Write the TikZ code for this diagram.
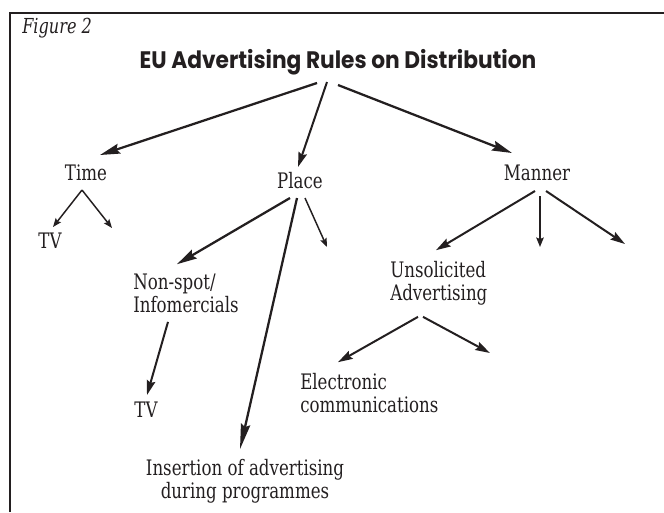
\documentclass[tikz,border=0pt]{standalone}
\usepackage{fontspec}
\setmainfont{DejaVu Serif}[FakeStretch=0.78]
\newfontfamily\headfont{Poppins}[FakeStretch=0.91]
\usetikzlibrary{arrows.meta}

\definecolor{ink}{HTML}{231F20}

\tikzset{
  lbl/.style={inner sep=0pt, text=ink, font=\fontsize{16}{17.25}\selectfont},
  heavy/.style={draw=ink, line width=1.7pt, -{Stealth[length=15pt, width=7.5pt, inset=2pt]}},
  medium/.style={draw=ink, line width=1.5pt, -{Stealth[length=11pt, width=6.5pt, inset=1.5pt]}},
  light/.style={draw=ink, line width=1.1pt, -{Stealth[length=6.5pt, width=5pt, inset=1pt]}},
}

\begin{document}
\begin{tikzpicture}[x=0.75pt, y=-0.75pt]
  \useasboundingbox (0,0) rectangle (664,512);

  % box round the figure (only top and left edge on the page)
  \draw[ink, line width=1.5pt] (9.5,512) -- (9.5,12.5) -- (664,12.5);

  \node[lbl, anchor=base west, font=\fontsize{15.5}{17}\selectfont\itshape] (fig) at (22,33) {Figure 2};
  \node[inner sep=0pt, text=ink, anchor=base, font=\headfont\bfseries\fontsize{17.9}{20}\selectfont] (title) at (338,68) {EU Advertising Rules on Distribution};

  \node[lbl, anchor=base] (time) at (86,180) {Time};
  \node[lbl, anchor=base] (place) at (300,188) {Place};
  \node[lbl, anchor=base] (manner) at (537,180) {Manner};

  \node[lbl, anchor=base] (tvA) at (50,248) {TV};
  \node[lbl, align=left, anchor=north west] (nonspot) at (133,273.5) {Non-spot/\\Infomercials};
  \node[lbl, anchor=base] (tvB) at (146,417) {TV};
  \node[lbl, align=center, anchor=north] (insert) at (245,459.5) {Insertion of advertising\\during programmes};
  \node[lbl, align=left, anchor=north west] (unsol) at (390,261.5) {Unsolicited\\Advertising};
  \node[lbl, align=left, anchor=north west] (elec) at (300,373.5) {Electronic\\communications};

  % arrows with nothing at the end
  \coordinate (timeR) at (112,228);
  \coordinate (placeR) at (327,247);
  \coordinate (mannerM) at (540,247);
  \coordinate (mannerR) at (625,244);
  \coordinate (unsolR) at (490,353);

  % from the title
  \draw[heavy] ([xshift=-15.75pt,yshift=-11.25pt]title.base) -- ([xshift=10.5pt,yshift=18.75pt]time.base);
  \draw[medium] ([xshift=-8.25pt,yshift=-10.5pt]title.base) -- ([xshift=-1.5pt,yshift=15.75pt]place.base);
  \draw[heavy] ([yshift=-12.75pt]title.base) -- ([xshift=-18.75pt,yshift=20.25pt]manner.base);

  % time
  \draw[light] ([xshift=-3pt,yshift=-7.5pt]time.base) -- ([xshift=2.25pt,yshift=15.75pt]tvA.base);
  \draw[light] ([xshift=-3pt,yshift=-7.5pt]time.base) -- (timeR);

  % place
  \draw[heavy] ([xshift=-7.5pt,yshift=-7.5pt]place.base) -- ([xshift=33pt,yshift=7pt]nonspot.north west);
  \draw[heavy, -{Stealth[length=19pt, width=7pt, inset=2pt]}] ([xshift=-2.25pt,yshift=-7.5pt]place.base) -- ([xshift=-3.75pt,yshift=7.75pt]insert.north);
  \draw[light] ([xshift=3.75pt,yshift=-7.5pt]place.base) -- (placeR);
  \draw[medium] ([xshift=26.25pt,yshift=-6.75pt]nonspot.south west) -- ([xshift=0.75pt,yshift=16.5pt]tvB.base);

  % manner
  \draw[medium] ([xshift=-1.5pt,yshift=-8.25pt]manner.base) -- ([xshift=34.5pt,yshift=8.5pt]unsol.north west);
  \draw[medium, -{Stealth[length=7pt, width=5.5pt, inset=1pt]}] ([xshift=2.25pt,yshift=-12pt]manner.base) -- (mannerM);
  \draw[medium] ([xshift=6.75pt,yshift=-8.25pt]manner.base) -- (mannerR);
  \draw[medium] ([xshift=21pt,yshift=-41.5pt]unsol.north west) -- ([xshift=28.5pt,yshift=8.5pt]elec.north west);
  \draw[medium] ([xshift=24.75pt,yshift=-41.5pt]unsol.north west) -- (unsolR);
\end{tikzpicture}
\end{document}
